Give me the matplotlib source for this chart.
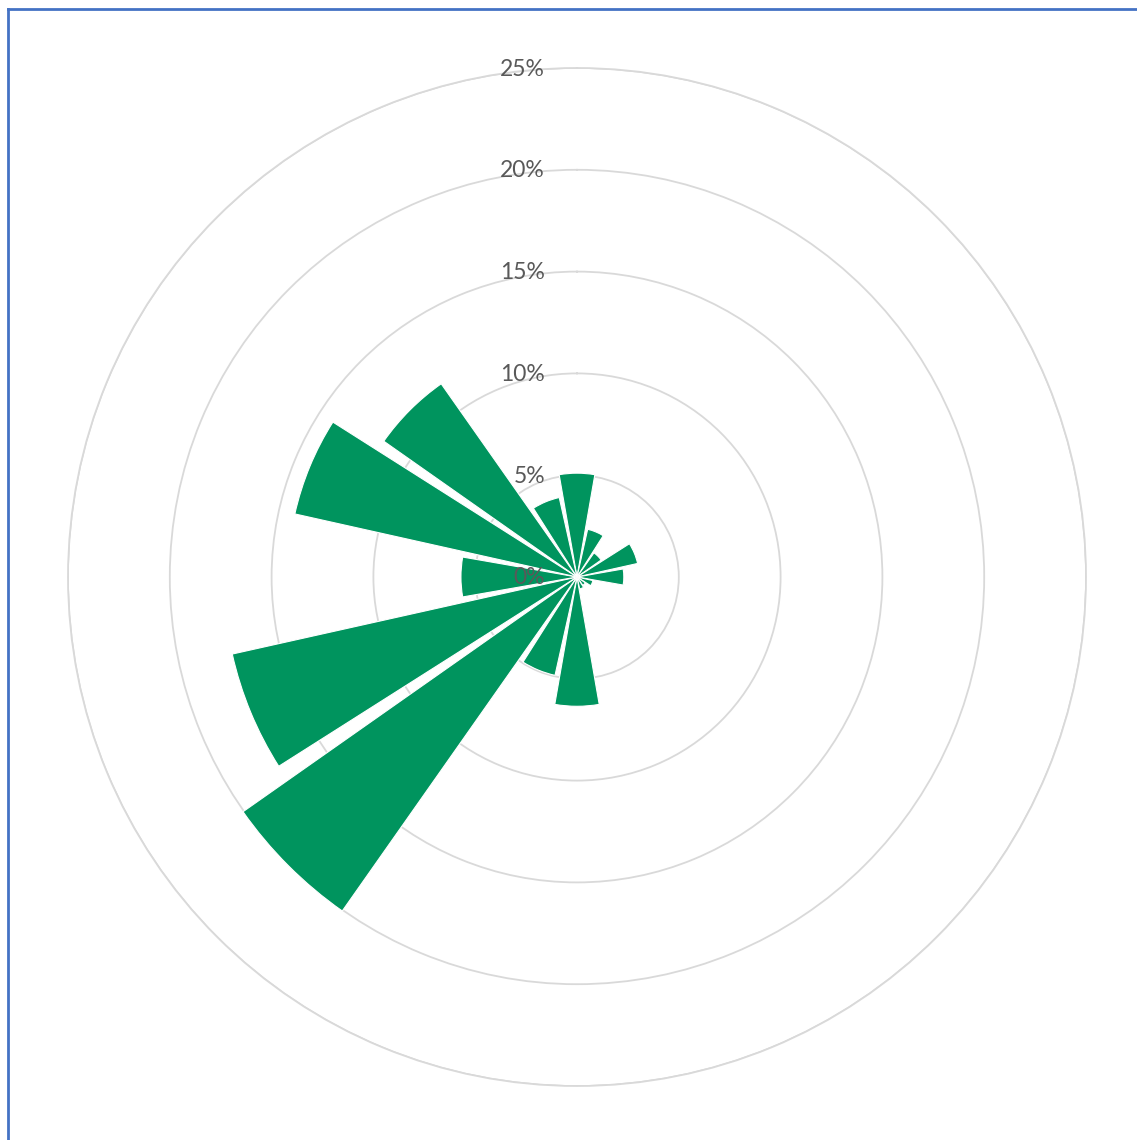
import numpy as np
import matplotlib
matplotlib.use('Agg')
import matplotlib.pyplot as plt
from matplotlib.lines import Line2D

# wind direction sectors, clockwise from north
directions = ['N', 'NNE', 'NE', 'ENE', 'E', 'ESE', 'SE', 'SSE',
              'S', 'SSW', 'SW', 'WSW', 'W', 'WNW', 'NW', 'NNW']
# frequency per sector (%)
freq = [5.1, 2.4, 1.45, 3.05, 2.3, 0.8, 0.5, 0.6,
        6.35, 4.95, 20.05, 17.35, 5.7, 14.2, 11.6, 4.0]
ring_values = [0, 5, 10, 15, 20, 25]
ring_labels = ['0%', '5%', '10%', '15%', '20%', '25%']

W, H = 1137, 1140
fig = plt.figure(figsize=(W / 100, H / 100), dpi=100)

cx, cy, R = 577, 577, 509
ax = fig.add_axes([(cx - R) / W, (H - cy - R) / H, 2 * R / W, 2 * R / H],
                  projection='polar')
ax.set_theta_zero_location('N')
ax.set_theta_direction(-1)

n = len(directions)
theta = np.arange(n) * 2 * np.pi / n
ax.bar(theta, freq, width=2 * np.pi / n * 0.88, bottom=0, color='#00945E',
       edgecolor='white', linewidth=0.8, zorder=3)

ax.set_ylim(0, 25)
ax.set_rgrids(ring_values[1:], labels=[''] * 5)
ax.yaxis.grid(True, color='#d9d9d9', linewidth=1.3)
ax.xaxis.grid(False)
ax.set_xticklabels([])
ax.spines['polar'].set_color('#d9d9d9')
ax.spines['polar'].set_linewidth(1.3)
ax.set_axisbelow(True)

for v, lab in zip(ring_values, ring_labels):
    ax.annotate(lab, xy=(0, v), xytext=(-32, -1), textcoords='offset pixels',
                ha='right', va='center', fontsize=16.5, family='Lato',
                color='#595959', zorder=5, annotation_clip=False)

# blue frame on the top and left edges
fig.add_artist(Line2D([8 / W, 1], [1 - 9 / H, 1 - 9 / H],
                      transform=fig.transFigure, color='#4472C4', linewidth=2))
fig.add_artist(Line2D([8 / W, 8 / W], [0, 1 - 9 / H],
                      transform=fig.transFigure, color='#4472C4', linewidth=2))

fig.savefig('out.png', dpi=100)
